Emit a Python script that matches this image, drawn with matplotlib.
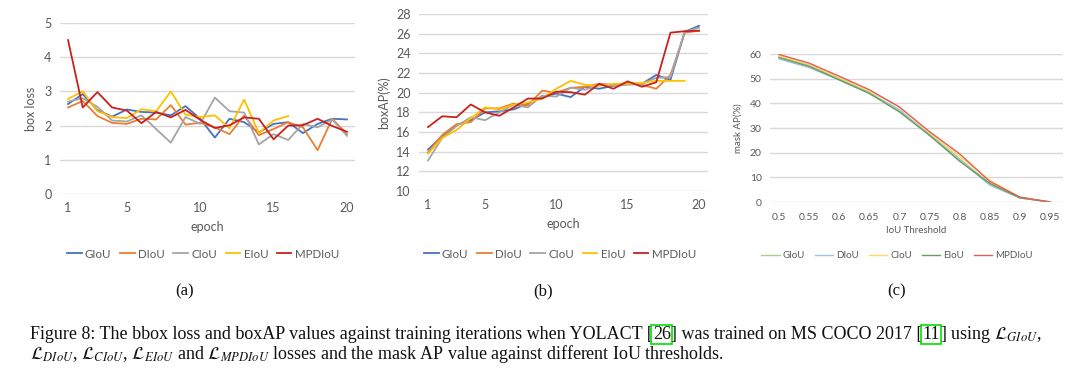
import matplotlib
matplotlib.use("Agg")
import matplotlib.pyplot as plt
import numpy as np

# ---------------- data ----------------
epochs = list(range(1, 21))
series_names = ["GIoU", "DIoU", "CIoU", "EIoU", "MPDIoU"]

loss_giou = [2.63, 2.92, 2.45, 2.26, 2.47, 2.40, 2.38, 2.30, 2.57, 2.20, 1.65, 2.20, 2.10, 1.80, 2.05, 2.10, 1.78, 2.05, 2.20, 2.18]
loss_diou = [2.53, 2.72, 2.28, 2.08, 2.05, 2.20, 2.18, 2.60, 2.03, 2.08, 1.95, 1.75, 2.30, 1.72, 1.90, 2.10, 1.95, 1.28, 2.20, 1.75]
loss_ciou = [2.70, 2.80, 2.55, 2.15, 2.12, 2.30, 1.90, 1.50, 2.25, 2.05, 2.82, 2.42, 2.38, 1.45, 1.75, 1.58, 2.05, 1.95, 2.18, 1.70]
loss_eiou = [2.78, 3.00, 2.42, 2.25, 2.22, 2.48, 2.42, 3.00, 2.32, 2.25, 2.30, 1.92, 2.76, 1.78, 2.15, 2.28]
loss_mpdiou = [4.50, 2.53, 2.98, 2.53, 2.44, 2.07, 2.40, 2.24, 2.46, 2.17, 1.93, 2.01, 2.24, 2.20, 1.60, 2.00, 2.01, 2.20, 1.99, 1.82]

ap_giou = [14.2, 15.6, 16.7, 17.2, 18.0, 18.1, 18.3, 18.9, 19.6, 19.9, 19.55, 20.6, 20.4, 20.7, 20.9, 20.9, 21.8, 21.3, 26.2, 26.8]
ap_diou = [13.9, 15.7, 16.8, 17.0, 18.4, 18.4, 18.9, 18.7, 20.2, 20.0, 20.5, 20.6, 20.9, 20.8, 21.0, 20.8, 20.4, 21.8, 26.1, 26.3]
ap_ciou = [13.1, 15.4, 16.6, 17.5, 17.2, 18.0, 18.8, 18.5, 19.7, 19.6, 20.5, 20.3, 20.8, 20.7, 20.8, 20.9, 21.5, 21.6, 26.2, 26.6]
ap_eiou = [13.8, 15.4, 16.2, 17.4, 18.5, 18.3, 18.8, 19.0, 19.4, 20.4, 21.2, 20.8, 20.7, 20.9, 20.9, 21.0, 21.2, 21.2, 21.2]
ap_mpdiou = [16.5, 17.6, 17.5, 18.8, 18.0, 17.65, 18.5, 19.4, 19.4, 20.1, 20.05, 19.8, 20.9, 20.4, 21.15, 20.6, 21.05, 26.1, 26.25, 26.3]

iou_thresholds = ["0.5", "0.55", "0.6", "0.65", "0.7", "0.75", "0.8", "0.85", "0.9", "0.95"]
mask_giou = [59.0, 55.5, 50.0, 44.5, 37.0, 27.5, 17.5, 7.5, 1.8, 0.0]
mask_diou = [58.0, 54.5, 49.5, 44.0, 37.5, 27.0, 17.0, 6.8, 1.6, 0.0]
mask_ciou = [59.3, 55.8, 50.5, 45.0, 38.5, 28.0, 18.5, 8.8, 1.9, 0.0]
mask_eiou = [58.5, 55.0, 49.5, 44.0, 36.5, 27.0, 16.5, 7.5, 1.7, 0.0]
mask_mpdiou = [59.8, 56.3, 51.0, 45.5, 38.5, 28.5, 19.5, 8.3, 2.0, 0.0]

loss_ticks = [1, 5, 10, 15, 20]

# ---------------- style ----------------
colors_ab = ["#4472C4", "#ED7D31", "#A5A5A5", "#FFC000", "#C9211E"]
colors_c = ["#A9D18E", "#9DC3E6", "#FFD966", "#6E9A5E", "#E0605A"]
txt_col = "#595959"
grid_col = "#D9D9D9"
FONT = "Lato"

plt.rcParams["font.family"] = [FONT, "DejaVu Sans"]
plt.rcParams["mathtext.fontset"] = "stix"

fig = plt.figure(figsize=(10.8, 3.72), dpi=100)
W, H = 1080, 372


def ax_at(x0, y0, x1, y1):
    return fig.add_axes([x0 / W, 1 - y1 / H, (x1 - x0) / W, (y1 - y0) / H])


def style(ax, fs):
    for s in ax.spines.values():
        s.set_visible(False)
    ax.tick_params(length=0, labelsize=fs, labelcolor=txt_col, pad=6)
    ax.grid(axis="y", color=grid_col, lw=1.0)
    ax.set_axisbelow(True)


def legend_at(ax, cx, cy, fs, hl, cs):
    ax.legend(loc="center", bbox_to_anchor=(cx / W, 1 - cy / H), bbox_transform=fig.transFigure,
              ncol=5, frameon=False, fontsize=fs, handlelength=hl, columnspacing=cs,
              handletextpad=0.3, labelcolor=txt_col, borderaxespad=0, borderpad=0)


# panel a
axa = ax_at(60, 23, 355, 194)
for name, vals, c in zip(series_names, [loss_giou, loss_diou, loss_ciou, loss_eiou, loss_mpdiou], colors_ab):
    axa.plot(epochs[:len(vals)], vals, color=c, lw=1.3, label=name)
axa.set_ylim(0, 5)
axa.set_yticks([0, 1, 2, 3, 4, 5])
axa.set_xlim(0.45, 20.55)
axa.set_xticks(loss_ticks)
style(axa, 9)
axa.set_ylabel("box loss", fontsize=9, color=txt_col, labelpad=5)
axa.set_xlabel("epoch", fontsize=9, color=txt_col, labelpad=5)
legend_at(axa, 203, 254, 8.3, 1.25, 0.75)

# panel b
axb = ax_at(419, 14, 708, 191)
for name, vals, c in zip(series_names, [ap_giou, ap_diou, ap_ciou, ap_eiou, ap_mpdiou], colors_ab):
    axb.plot(epochs[:len(vals)], vals, color=c, lw=1.3, label=name)
axb.set_ylim(10, 28)
axb.set_yticks(range(10, 29, 2))
axb.set_xlim(0.37, 20.63)
axb.set_xticks(loss_ticks)
style(axb, 9)
axb.set_ylabel("boxAP(%)", fontsize=9, color=txt_col, labelpad=4)
axb.set_xlabel("epoch", fontsize=9, color=txt_col, labelpad=5)
legend_at(axb, 560, 254, 8.3, 1.25, 0.75)

# panel c
axc = ax_at(770, 54, 1063, 202)
xc = np.arange(len(iou_thresholds))
for name, vals, c in zip(series_names, [mask_giou, mask_diou, mask_ciou, mask_eiou, mask_mpdiou], colors_c):
    axc.plot(xc, vals, color=c, lw=1.0, label=name)
axc.set_ylim(0, 60)
axc.set_yticks(range(0, 61, 10))
axc.set_xlim(-0.3, 9.43)
axc.set_xticks(xc)
axc.set_xticklabels(iou_thresholds)
style(axc, 7.5)
axc.tick_params(axis="x", pad=8)
axc.set_ylabel("mask AP(%)", fontsize=7, color=txt_col, labelpad=5)
axc.set_xlabel("IoU Threshold", fontsize=7, color=txt_col, labelpad=3)
legend_at(axc, 897, 256, 7, 1.9, 1.0)

# sub captions
SERIF = ["Liberation Serif", "DejaVu Serif"]
for lab, x in [("(a)", 185), ("(b)", 543), ("(c)", 897)]:
    fig.text(x / W, 1 - 291 / H, lab, family=SERIF, fontsize=12, ha="center", va="center", color="#111111")

# figure caption, drawn in pieces to put green boxes round citations
fig.canvas.draw()
renderer = fig.canvas.get_renderer()


def draw_line(pieces, x0, y, fs):
    x = x0
    for txt, boxed in pieces:
        kw = {}
        if boxed:
            kw["bbox"] = dict(boxstyle="square,pad=0.08", fc="none", ec="#00E000", lw=1.2)
        t = fig.text(x / W, 1 - y / H, txt, family=SERIF, fontsize=fs, ha="left",
                     va="baseline", color="#111111", **kw)
        bb = t.get_window_extent(renderer)
        x += bb.width
    return x


line1 = [("Figure 8: The bbox loss and boxAP values against training iterations when YOLACT [", False),
         ("26", True),
         ("] was trained on MS COCO 2017 [", False),
         ("11", True),
         (r"] using $\mathcal{L}_{GIoU}$,", False)]
line2 = [(r"$\mathcal{L}_{DIoU}$, $\mathcal{L}_{CIoU}$, $\mathcal{L}_{EIoU}$ and $\mathcal{L}_{MPDIoU}$ losses and the mask AP value against different IoU thresholds.", False)]
draw_line(line1, 30, 339, 13.0)
draw_line(line2, 30, 359, 13.0)

fig.savefig("out.png", dpi=100, facecolor="white")
